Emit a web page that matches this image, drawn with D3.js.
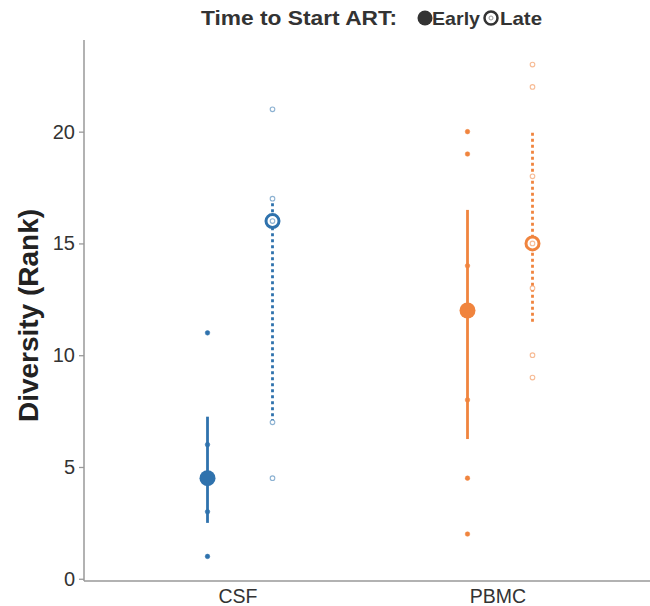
<!DOCTYPE html>
<html>
<head>
<meta charset="utf-8">
<script src="https://cdn.jsdelivr.net/npm/d3@7"></script>
<style>
  body { margin: 0; background: #fff; }
  svg { display: block; font-family: 'Liberation Sans', Arial, sans-serif; }
</style>
</head>
<body>
<div id="chart"></div>
<script>
const tissues = ['CSF', 'PBMC']
const timings = ['Early', 'Late']
const colors = { CSF: '#2f72ad', PBMC: '#f0843e' }

// diversity ranks per sample
const csfEarly = [1, 3, 6, 11]
const csfLate = [4.5, 7, 16, 17, 21]
const pbmcEarly = [2, 4.5, 8, 12, 14, 19, 20]
const pbmcLate = [9, 10, 13, 15, 18, 22, 23]

// summaries: median, lower and upper quartile
const medians = [4.5, 16, 12, 15]
const lowers = [2.5, 7, 6.25, 11.5]
const uppers = [7.25, 17, 16.5, 20]

const yTicks = [0, 5, 10, 15, 20]

const groups = [
  { tissue: 'CSF', timing: 'Early', values: csfEarly },
  { tissue: 'CSF', timing: 'Late', values: csfLate },
  { tissue: 'PBMC', timing: 'Early', values: pbmcEarly },
  { tissue: 'PBMC', timing: 'Late', values: pbmcLate },
].map((g, i) => ({ ...g, median: medians[i], lower: lowers[i], upper: uppers[i] }))

const width = 650
const height = 606
const margin = { top: 40, right: -6, bottom: 25, left: 84 }

const svg = d3.select('#chart')
  .append('svg')
  .attr('width', width)
  .attr('height', height)

const x = d3.scaleBand()
  .domain(tissues)
  .range([margin.left, width - margin.right])
  .paddingOuter(0.1)
  .paddingInner(0)

const dodge = d3.scalePoint()
  .domain(timings)
  .range([-32.5, 32.5])

const xPos = (d) => x(d.tissue) + x.bandwidth() / 2 + dodge(d.timing)

const y = d3.scaleLinear()
  .domain([-0.1, 24.1])
  .range([height - margin.bottom, margin.top])

// axes
const yAxis = svg.append('g')
  .attr('transform', `translate(${margin.left},0)`)
  .call(d3.axisLeft(y).tickValues(yTicks).tickSize(5).tickPadding(4))
yAxis.select('.domain').remove()
yAxis.selectAll('.tick line').attr('stroke', '#999').attr('stroke-width', 1.3)
yAxis.selectAll('.tick text')
  .attr('fill', '#333')
  .style('font-size', '20px')

svg.append('line')
  .attr('x1', margin.left).attr('x2', margin.left)
  .attr('y1', margin.top).attr('y2', height - margin.bottom)
  .attr('stroke', '#999').attr('stroke-width', 1.5)

svg.append('line')
  .attr('x1', margin.left).attr('x2', width)
  .attr('y1', height - margin.bottom).attr('y2', height - margin.bottom)
  .attr('stroke', '#999').attr('stroke-width', 1.5)

svg.selectAll('.x-label')
  .data(tissues)
  .enter()
  .append('text')
  .attr('class', 'x-label')
  .attr('x', (d) => x(d) + x.bandwidth() / 2 - 2)
  .attr('y', height - 3)
  .attr('text-anchor', 'middle')
  .attr('fill', '#333')
  .style('font-size', '19.5px')
  .text((d) => d)

svg.append('text')
  .attr('transform', `translate(38,${(margin.top + height - margin.bottom) / 2 + 5}) rotate(-90)`)
  .attr('text-anchor', 'middle')
  .attr('fill', '#222')
  .style('font-size', '28px')
  .style('font-weight', 'bold')
  .text('Diversity (Rank)')

// quartile bars
svg.selectAll('.range')
  .data(groups)
  .enter()
  .append('line')
  .attr('class', 'range')
  .attr('x1', xPos).attr('x2', xPos)
  .attr('y1', (d) => y(d.lower))
  .attr('y2', (d) => y(d.upper))
  .attr('stroke', (d) => colors[d.tissue])
  .attr('stroke-width', 2.8)
  .attr('stroke-dasharray', (d) => d.timing === 'Late' ? '3,3' : null)

// medians
svg.selectAll('.median')
  .data(groups)
  .enter()
  .append('circle')
  .attr('class', 'median')
  .attr('cx', xPos)
  .attr('cy', (d) => y(d.median))
  .attr('r', (d) => d.timing === 'Late' ? 6.5 : 8)
  .attr('fill', (d) => d.timing === 'Late' ? '#fff' : colors[d.tissue])
  .attr('stroke', (d) => colors[d.tissue])
  .attr('stroke-width', (d) => d.timing === 'Late' ? 3 : 0)

// samples
const samples = groups.flatMap((g) => g.values.map((v) => ({ ...g, value: v })))

svg.selectAll('.sample')
  .data(samples)
  .enter()
  .append('circle')
  .attr('class', 'sample')
  .attr('cx', xPos)
  .attr('cy', (d) => y(d.value))
  .attr('r', 2.3)
  .attr('fill', (d) => d.timing === 'Late' ? '#fff' : colors[d.tissue])
  .attr('stroke', (d) => colors[d.tissue])
  .attr('stroke-opacity', (d) => d.timing === 'Late' ? 0.55 : 1)
  .attr('stroke-width', (d) => d.timing === 'Late' ? 1.1 : 0.5)

// legend
const legend = svg.append('g').attr('fill', '#333').style('font-weight', 'bold')

legend.append('text')
  .attr('x', 201).attr('y', 25)
  .attr('textLength', 196)
  .attr('lengthAdjust', 'spacingAndGlyphs')
  .style('font-size', '20px')
  .text('Time to Start ART:')

legend.append('circle')
  .attr('cx', 425).attr('cy', 18).attr('r', 7.5)
  .attr('fill', '#333')

legend.append('text')
  .attr('x', 432).attr('y', 25)
  .attr('textLength', 48)
  .attr('lengthAdjust', 'spacingAndGlyphs')
  .style('font-size', '18.5px')
  .text('Early')

legend.append('circle')
  .attr('cx', 491).attr('cy', 18).attr('r', 6.5)
  .attr('fill', '#fff').attr('stroke', '#333').attr('stroke-width', 2.5)

legend.append('circle')
  .attr('cx', 491).attr('cy', 18).attr('r', 2)
  .attr('fill', '#fff').attr('stroke', '#999').attr('stroke-width', 1)

legend.append('text')
  .attr('x', 500).attr('y', 25)
  .attr('textLength', 42)
  .attr('lengthAdjust', 'spacingAndGlyphs')
  .style('font-size', '18.5px')
  .text('Late')
</script>
</body>
</html>
